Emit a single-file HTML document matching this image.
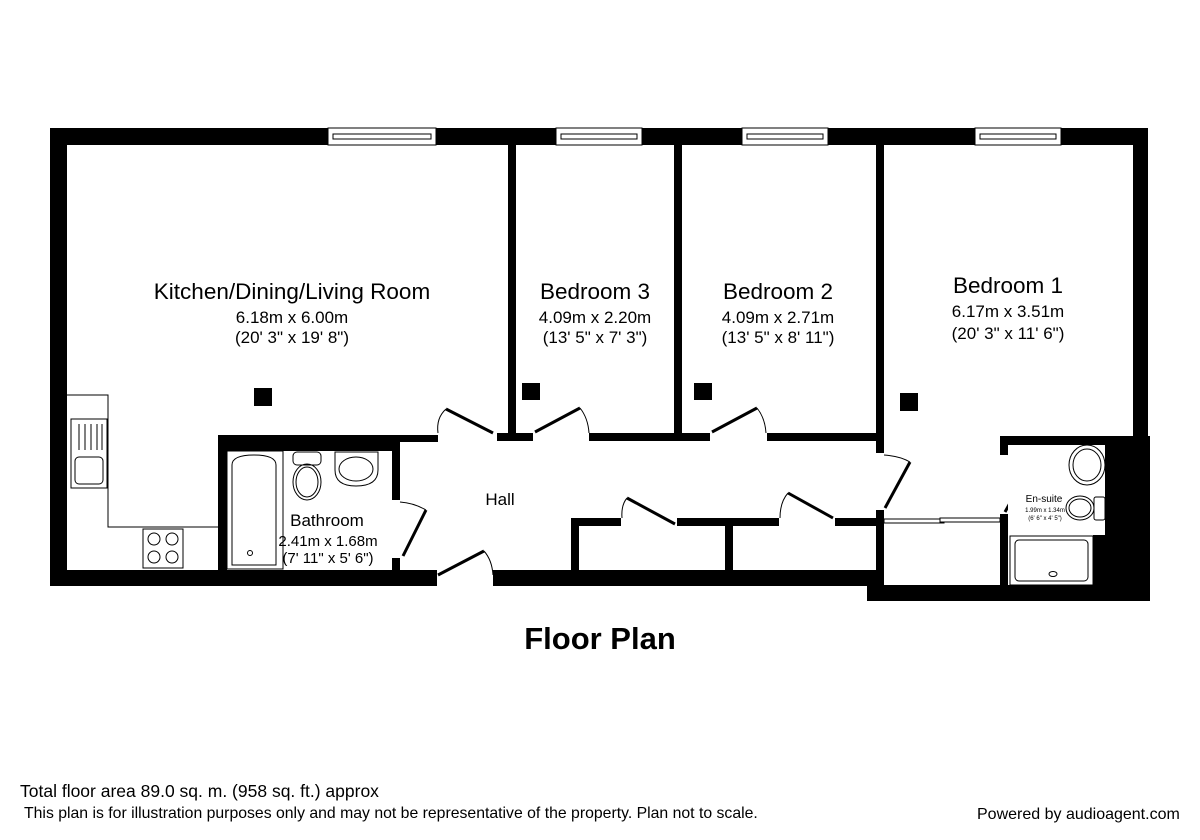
<!DOCTYPE html>
<html><head><meta charset="utf-8"><style>
body{margin:0;background:#fff;width:1200px;height:840px;overflow:hidden}
svg{display:block}
text{font-family:"Liberation Sans",Arial,sans-serif;fill:#000;font-weight:400;stroke:none}
</style></head><body>
<svg width="1200" height="840" viewBox="0 0 1200 840">
<g fill="#000">
<rect x="50" y="128" width="1098" height="17"/>
<rect x="50" y="128" width="17" height="458"/>
<rect x="1133" y="128" width="15" height="310"/>
<rect x="50" y="570" width="387" height="16"/>
<rect x="493" y="570" width="390" height="16"/>
<rect x="867" y="585" width="283" height="16"/>
<rect x="867" y="570" width="16" height="31"/>
<rect x="1105" y="436" width="45" height="165"/>
<rect x="1093" y="535" width="15" height="55"/>
<rect x="1000" y="436" width="135" height="9"/>
<rect x="1000" y="436" width="8" height="19"/>
<rect x="1000" y="514" width="8" height="72"/>
<rect x="508" y="145" width="8" height="296"/>
<rect x="674" y="145" width="8" height="296"/>
<rect x="876" y="145" width="8" height="308"/>
<rect x="876" y="510" width="8" height="76"/>
<rect x="399" y="435" width="39" height="7"/>
<rect x="497" y="433" width="36" height="8"/>
<rect x="589" y="433" width="121" height="8"/>
<rect x="767" y="433" width="115" height="8"/>
<rect x="218" y="435" width="182" height="16"/>
<rect x="218" y="435" width="9" height="140"/>
<rect x="392" y="435" width="8" height="65"/>
<rect x="392" y="558" width="8" height="14"/>
<rect x="571" y="518" width="50" height="8"/>
<rect x="677" y="518" width="102" height="8"/>
<rect x="835" y="518" width="45" height="8"/>
<rect x="571" y="518" width="8" height="55"/>
<rect x="725" y="518" width="8" height="55"/>
<rect x="254" y="388" width="18" height="18"/>
<rect x="522" y="383" width="18" height="17"/>
<rect x="694" y="383" width="18" height="17"/>
<rect x="900" y="393" width="18" height="18"/>
</g>
<g fill="#fff" stroke="#000" stroke-width="1">
<rect x="328" y="128" width="108" height="17"/><rect x="333" y="134" width="98" height="5"/>
<rect x="556" y="128" width="86" height="17"/><rect x="561" y="134" width="76" height="5"/>
<rect x="742" y="128" width="86" height="17"/><rect x="747" y="134" width="76" height="5"/>
<rect x="975" y="128" width="86" height="17"/><rect x="980" y="134" width="76" height="5"/>
</g>
<g stroke="#000" fill="none">
<g stroke-width="3">
<line x1="446" y1="409" x2="493" y2="433"/>
<line x1="535" y1="432" x2="580" y2="408"/>
<line x1="712" y1="432" x2="757" y2="408"/>
<line x1="627" y1="498" x2="675" y2="524"/>
<line x1="788" y1="493" x2="833" y2="518"/>
<line x1="403" y1="556" x2="426" y2="510"/>
<line x1="438" y1="575" x2="484" y2="551"/>
<line x1="885" y1="508" x2="910" y2="462"/>
<line x1="1005" y1="512" x2="1030" y2="467"/>
</g>
<g stroke-width="1">
<path d="M438 433 Q436 418 446 409"/>
<path d="M580 408 Q588 418 589 433"/>
<path d="M757 408 Q765 418 766 433"/>
<path d="M627 498 Q621 505 622 518"/>
<path d="M788 493 Q780 502 780 518"/>
<path d="M400 502 Q414 503 426 510"/>
<path d="M484 551 Q492 560 493 575"/>
<path d="M884 455 Q900 456 910 462"/>
<path d="M1008 455 Q1020 458 1030 467"/>
<rect x="884" y="519" width="60" height="4" fill="#fff"/>
<rect x="940" y="518" width="60" height="4" fill="#fff"/>
<polyline points="67,395 108,395 108,527 218,527"/>
<rect x="71" y="419" width="36" height="69"/>
<rect x="75" y="457" width="28" height="27" rx="4"/>
<line x1="79" y1="424" x2="79" y2="450"/><line x1="85" y1="424" x2="85" y2="450"/><line x1="91" y1="424" x2="91" y2="450"/><line x1="97" y1="424" x2="97" y2="450"/><line x1="102" y1="424" x2="102" y2="450"/>
<rect x="143" y="529" width="40" height="39"/>
<circle cx="154" cy="539" r="6"/><circle cx="172" cy="539" r="6"/><circle cx="154" cy="557" r="6"/><circle cx="172" cy="557" r="6"/>
<rect x="227" y="451" width="56" height="118"/>
<path d="M232 565 L232 465 Q232 455 254 455 Q276 455 276 465 L276 565 Z"/>
<circle cx="250" cy="553" r="2.5"/>
<rect x="293" y="452" width="28" height="13" rx="4"/>
<ellipse cx="307" cy="482" rx="14" ry="18"/>
<ellipse cx="307" cy="482" rx="11" ry="15"/>
<path d="M335 452 L378 452 L378 470 Q378 486 356 486 Q335 486 335 470 Z"/>
<ellipse cx="356" cy="469" rx="17" ry="12"/>
<rect x="1008" y="445" width="97" height="90" stroke="none" fill="#fff"/>
<ellipse cx="1087" cy="465" rx="18" ry="20"/>
<ellipse cx="1087" cy="465" rx="14" ry="16"/>
<rect x="1094" y="497" width="11" height="23" rx="2"/>
<ellipse cx="1080" cy="508" rx="14" ry="12"/>
<ellipse cx="1080" cy="508" rx="11" ry="9"/>
<rect x="1010" y="536" width="83" height="49"/>
<rect x="1015" y="540" width="73" height="41" rx="4"/>
<ellipse cx="1053" cy="574" rx="4" ry="2.5"/>
</g>
</g>
<g text-anchor="middle">
<text x="292" y="299" font-size="22.5">Kitchen/Dining/Living Room</text>
<text x="292" y="323" font-size="17">6.18m x 6.00m</text>
<text x="292" y="343" font-size="17">(20' 3" x 19' 8")</text>
<text x="595" y="299" font-size="22.5">Bedroom 3</text>
<text x="595" y="323" font-size="17">4.09m x 2.20m</text>
<text x="595" y="343" font-size="17">(13' 5" x 7' 3")</text>
<text x="778" y="299" font-size="22.5">Bedroom 2</text>
<text x="778" y="323" font-size="17">4.09m x 2.71m</text>
<text x="778" y="343" font-size="17">(13' 5" x 8' 11")</text>
<text x="1008" y="293" font-size="22.5">Bedroom 1</text>
<text x="1008" y="317" font-size="17">6.17m x 3.51m</text>
<text x="1008" y="339" font-size="17">(20' 3" x 11' 6")</text>
<text x="327" y="526" font-size="17">Bathroom</text>
<text x="328" y="546" font-size="15">2.41m x 1.68m</text>
<text x="328" y="563" font-size="15">(7' 11" x 5' 6")</text>
<text x="500" y="505" font-size="17">Hall</text>
<text x="1044" y="502" font-size="10">En-suite</text>
<text x="1045" y="512" font-size="6">1.99m x 1.34m</text>
<text x="1045" y="520" font-size="6">(6' 6" x 4' 5")</text>
<text x="600" y="649" font-size="31" style="font-weight:700">Floor Plan</text>
</g>
<text x="20" y="797" font-size="17.5">Total floor area 89.0 sq. m. (958 sq. ft.) approx</text>
<text x="24" y="818" font-size="15.8">This plan is for illustration purposes only and may not be representative of the property. Plan not to scale.</text>
<text x="977" y="819" font-size="16">Powered by audioagent.com</text>
</svg>
</body></html>
